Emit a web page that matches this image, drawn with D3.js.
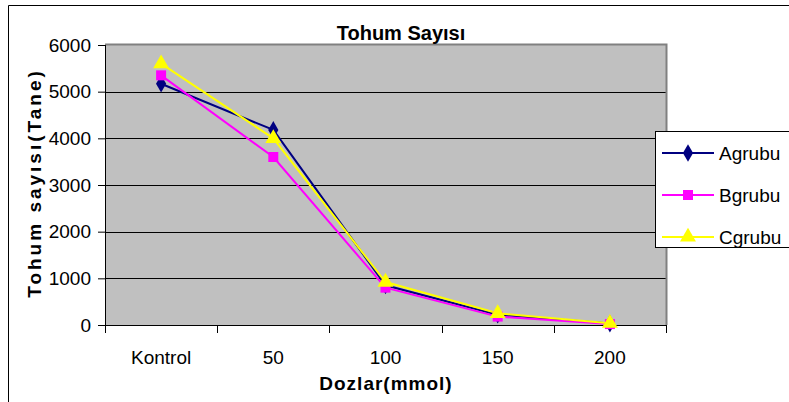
<!DOCTYPE html>
<html><head><meta charset="utf-8">
<script src="https://cdn.jsdelivr.net/npm/d3@7"></script>
<style>body{margin:0;background:#fff}svg{display:block}text{font-family:"Liberation Sans",Arial,sans-serif}</style>
</head><body>
<svg id="chart" width="789" height="402"></svg>
<script>
const categories = ["Kontrol", "50", "100", "150", "200"];
const seriesNames = ["Agrubu", "Bgrubu", "Cgrubu"];
const agrubu = [5170, 4180, 850, 220, 30];
const bgrubu = [5350, 3600, 800, 180, 20];
const cgrubu = [5600, 4000, 920, 250, 40];
const yTicks = [0, 1000, 2000, 3000, 4000, 5000, 6000];
const title = "Tohum Sayısı";
const xTitle = "Dozlar(mmol)";
const yTitle = "Tohum sayısı(Tane)";

const svg = d3.select("#chart");
const L = 105, R = 666, T = 45, B = 325;
const x = d3.scaleBand().domain(categories).range([L, R]);
const y = d3.scaleLinear().domain([0, 6000]).range([B, T]);

// outer frame
svg.append("path").attr("d", "M8.5,402 V5.5 H789").attr("fill", "none").attr("stroke", "#000").attr("stroke-width", 1);

// plot area
svg.append("rect").attr("x", L).attr("y", T).attr("width", R - L).attr("height", B - T).attr("fill", "#c0c0c0");
// gridlines
svg.append("g").selectAll("line").data(yTicks.filter(d => d > 0 && d < 6000)).join("line")
  .attr("x1", L).attr("x2", R).attr("y1", d => Math.round(y(d)) + 0.5).attr("y2", d => Math.round(y(d)) + 0.5)
  .attr("stroke", "#000").attr("stroke-width", 1);
// top / right border gray
svg.append("path").attr("d", `M${L},${T - 0.5} H${R + 0.5} V${B}`).attr("fill", "none").attr("stroke", "#808080").attr("stroke-width", 2);

// y axis
const yAxis = svg.append("g").attr("transform", `translate(${L},0)`)
  .call(d3.axisLeft(y).tickValues(yTicks).tickSize(7).tickPadding(7).tickFormat(d3.format("d")));
yAxis.selectAll("text").attr("font-size", 19).attr("fill", "#000").attr("font-family", "'Liberation Sans', Arial, sans-serif");
yAxis.selectAll("line,path").attr("stroke", "#000");
yAxis.select(".domain").attr("d", `M0.5,${T} V${B}`);

// x axis
const xAxis = svg.append("g").attr("transform", `translate(0,${B})`)
  .call(d3.axisBottom(x).tickSize(0).tickPadding(26));
xAxis.selectAll("text").attr("font-size", 19).attr("fill", "#000").attr("font-family", "'Liberation Sans', Arial, sans-serif");
xAxis.select(".domain").attr("d", `M${L},0.5 H${R}`).attr("stroke", "#000");
const bounds = categories.map(c => x(c)).concat([R]);
svg.append("g").selectAll("line").data(bounds).join("line")
  .attr("x1", d => Math.round(d) + 0.5).attr("x2", d => Math.round(d) + 0.5)
  .attr("y1", B).attr("y2", B + 8).attr("stroke", "#000");

// series
const series = [
  {name: seriesNames[0], values: agrubu, color: "#000080", sym: d3.symbolDiamond, size: 90},
  {name: seriesNames[1], values: bgrubu, color: "#ff00ff", sym: d3.symbolSquare, size: 100},
  {name: seriesNames[2], values: cgrubu, color: "#ffff00", sym: d3.symbolTriangle, size: 110}
];
const line = d3.line().x((d, i) => x(categories[i]) + x.bandwidth() / 2).y(d => y(d));
series.forEach(s => {
  svg.append("path").attr("d", line(s.values)).attr("fill", "none").attr("stroke", s.color).attr("stroke-width", 2);
});
series.forEach(s => {
  svg.append("g").selectAll("path").data(s.values).join("path")
    .attr("d", d3.symbol().type(s.sym).size(s.size))
    .attr("transform", (d, i) => `translate(${x(categories[i]) + x.bandwidth() / 2},${y(d)})`)
    .attr("fill", s.color);
});

// titles
svg.append("text").attr("x", 401).attr("y", 40).attr("text-anchor", "middle")
  .attr("font-size", 20).attr("font-weight", "bold").text(title);
svg.append("text").attr("x", 386).attr("y", 390).attr("text-anchor", "middle")
  .attr("font-size", 19).attr("font-weight", "bold").attr("letter-spacing", 1).text(xTitle);
svg.append("text").attr("transform", "translate(41,183) rotate(-90)").attr("text-anchor", "middle")
  .attr("font-size", 19).attr("font-weight", "bold").attr("letter-spacing", 3).text(yTitle);

// legend
const lg = svg.append("g");
lg.append("rect").attr("x", 655.5).attr("y", 131.5).attr("width", 140).attr("height", 116)
  .attr("fill", "#fff").attr("stroke", "#000");
series.forEach((s, i) => {
  const cy = 153 + i * 42;
  lg.append("line").attr("x1", 662).attr("x2", 714).attr("y1", cy).attr("y2", cy).attr("stroke", s.color).attr("stroke-width", 2);
  lg.append("path").attr("d", d3.symbol().type(s.sym).size(s.size)).attr("transform", `translate(688,${cy})`).attr("fill", s.color);
  lg.append("text").attr("x", 719).attr("y", cy + 7).attr("font-size", 19).text(s.name);
});
</script>
</body></html>
